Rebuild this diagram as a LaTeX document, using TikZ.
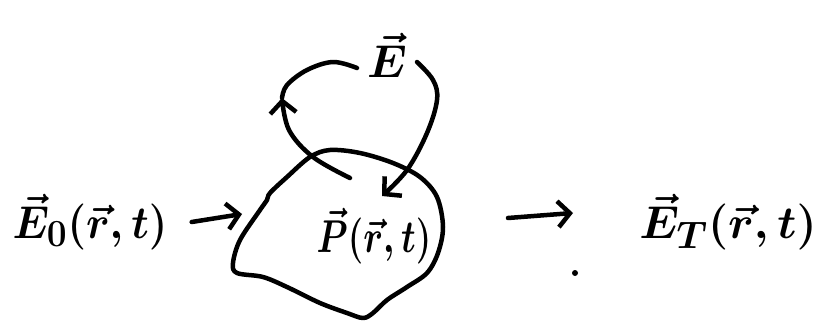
\documentclass[tikz,border=0pt]{standalone}
\usepackage{graphicx}
\usetikzlibrary{arrows.meta}
\newcommand{\bigtxt}[2][1.85]{\scalebox{#1}[1.85]{\Huge\boldmath$#2$}}
\begin{document}
\begin{tikzpicture}[x=1pt,y=-1pt, line width=4.5pt, line cap=round, line join=round,
 arr/.style={-{Straight Barb[length=12pt,width=26pt,line width=4.5pt]}},
 lbl/.style={inner sep=0pt}]
\useasboundingbox (0,0) rectangle (833,329);
% labels
\node[lbl] (e0) at (90,222) {\bigtxt[1.7]{\vec{E}_0(\vec{r},t)}};
\node[lbl] (p) at (374,236) {\bigtxt[1.42]{\vec{P}(\vec{r},t)}};
\node[lbl] (e) at (387,55) {\bigtxt{\vec{E}}};
\node[lbl] (et) at (728,222) {\bigtxt{\vec{E}_T(\vec{r},t)}};
% blob (the medium)
\draw plot[smooth cycle, tension=0.55] coordinates {
 (330,150) (360,153) (393,163) (420,177) (437,197) (443,227) (438,253)
 (427,273) (407,287) (387,300) (373,313) (363,318) (347,313) (320,303)
 (287,287) (263,277) (237,273) (233,263) (240,240) (260,210) (267,200)
 (270,193) (287,177) (310,157)};
% feedback loop
\coordinate (ls) at (350,178);
\coordinate (la) at (282,98);
\coordinate (le) at (357,68);
\coordinate (rs) at (417,62);
\coordinate (ra) at (382,196);
\draw[arr] plot[smooth, tension=0.6] coordinates {(ls) (313,157) (289,130) (la)};
\draw plot[smooth, tension=0.6] coordinates {(la) (287,85) (307,70) (333,62) (le)};
\draw[arr] plot[smooth, tension=0.6] coordinates {(rs) (433,80) (437,100) (427,133) (407,170) (ra)};
% in / out arrows
\coordinate (in) at (242,214);
\coordinate (out) at (573,213);
\coordinate (outs) at (508,218);
\draw[arr] ([xshift=22pt]e0.east) -- (in);
\draw[arr] (outs) -- (out);
\fill (575,273) circle (3pt);
\end{tikzpicture}
\end{document}
